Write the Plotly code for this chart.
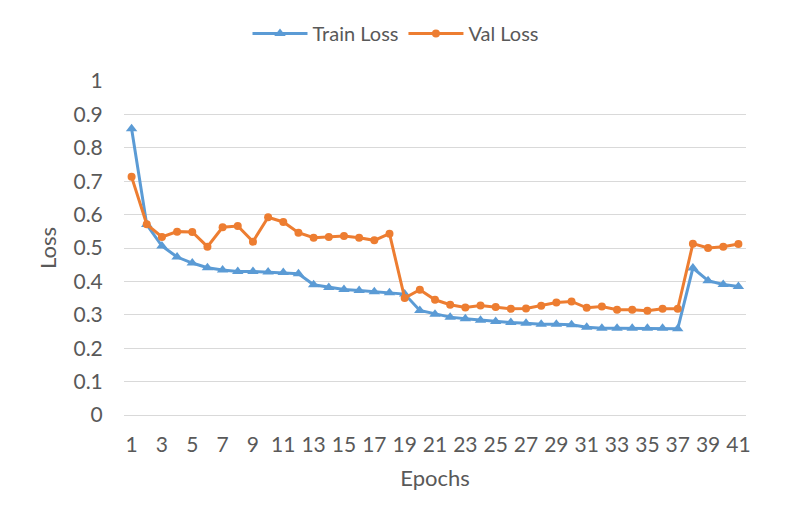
import plotly.graph_objects as go

epochs = list(range(1, 42))
train_loss = [0.857, 0.570, 0.506, 0.473, 0.455, 0.441, 0.434, 0.430, 0.430, 0.428, 0.427, 0.423,
              0.390, 0.382, 0.376, 0.373, 0.369, 0.366, 0.362, 0.313, 0.302, 0.293, 0.288, 0.284,
              0.280, 0.277, 0.275, 0.272, 0.272, 0.270, 0.263, 0.260, 0.260, 0.260, 0.260, 0.260,
              0.258, 0.440, 0.402, 0.391, 0.385]
val_loss = [0.713, 0.571, 0.533, 0.549, 0.548, 0.504, 0.562, 0.566, 0.519, 0.592, 0.578, 0.546,
            0.531, 0.533, 0.536, 0.531, 0.523, 0.543, 0.350, 0.375, 0.345, 0.330, 0.322, 0.328,
            0.323, 0.318, 0.319, 0.327, 0.337, 0.340, 0.321, 0.325, 0.315, 0.315, 0.312, 0.318,
            0.318, 0.513, 0.500, 0.504, 0.512]
x_ticks = list(range(1, 42, 2))
y_ticks = [round(i * 0.1, 1) for i in range(11)]
y_tick_text = ["0", "0.1", "0.2", "0.3", "0.4", "0.5", "0.6", "0.7", "0.8", "0.9", "1"]

FONT = "Lato, 'Open Sans', sans-serif"
GRAY = "#595959"

fig = go.Figure()
fig.add_trace(go.Scatter(
    x=epochs, y=train_loss, name="Train Loss", mode="lines+markers",
    line=dict(color="#5B9BD5", width=3),
    marker=dict(symbol="triangle-up", size=10, color="#5B9BD5"),
))
fig.add_trace(go.Scatter(
    x=epochs, y=val_loss, name="Val Loss", mode="lines+markers",
    line=dict(color="#ED7D31", width=3),
    marker=dict(symbol="circle", size=8, color="#ED7D31"),
))

fig.update_layout(
    width=800, height=511,
    margin=dict(l=116, r=62, t=73, b=104),
    paper_bgcolor="white", plot_bgcolor="white",
    font=dict(family=FONT, size=21, color=GRAY),
    legend=dict(orientation="h", xref="container", x=0.485, xanchor="center",
                yref="container", y=0.95, yanchor="middle",
                font=dict(size=20, color=GRAY), itemwidth=55),
    showlegend=True,
)
fig.update_xaxes(
    range=[0.5, 41.5], tickmode="array", tickvals=x_ticks, ticktext=[str(t) for t in x_ticks],
    showgrid=False, zeroline=False, showline=False, automargin=False,
    ticks="outside", ticklen=11, tickcolor="rgba(0,0,0,0)",
    title=dict(text="Epochs", font=dict(size=22, color=GRAY), standoff=15),
    tickfont=dict(size=21, color=GRAY),
)
fig.update_yaxes(
    range=[0, 1], tickmode="array", tickvals=y_ticks, ticktext=y_tick_text,
    showgrid=True, gridcolor="#D9D9D9", gridwidth=1, zeroline=True, zerolinecolor="#D9D9D9",
    zerolinewidth=1, showline=False, automargin=False,
    ticks="outside", ticklen=16, tickcolor="rgba(0,0,0,0)",
    title=dict(text="Loss", font=dict(size=22, color=GRAY), standoff=10),
    tickfont=dict(size=21, color=GRAY),
)

fig.write_html("out.html")
